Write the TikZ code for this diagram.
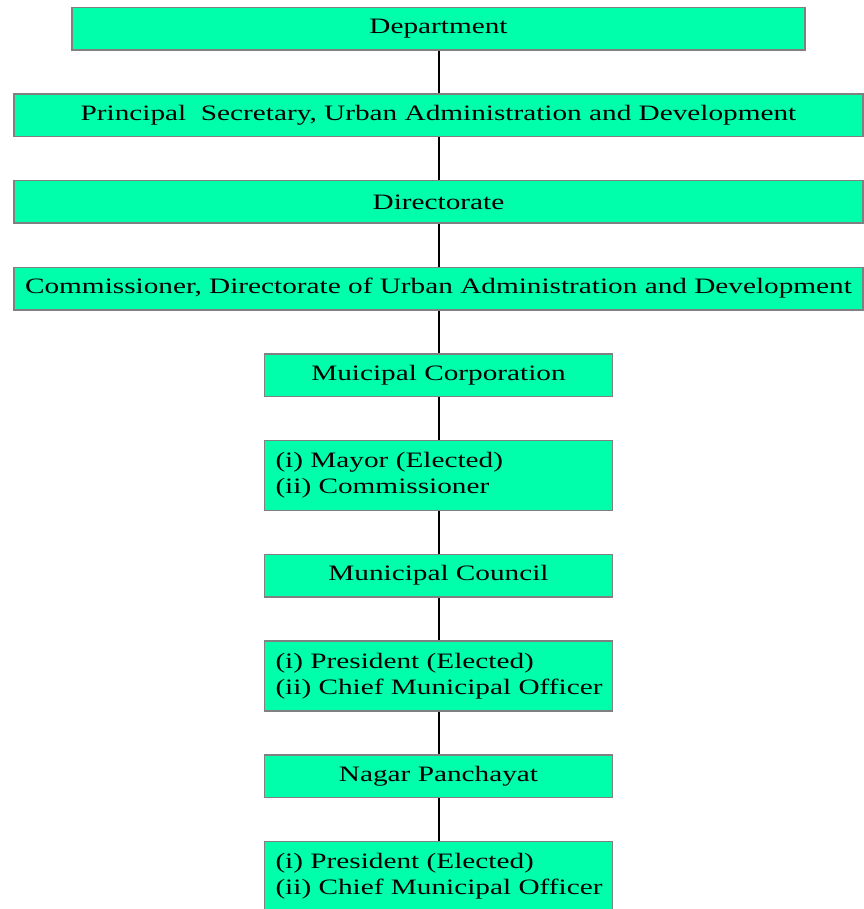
\documentclass[tikz,border=0pt]{standalone}
\usepackage{fontspec}
\setmainfont{Liberation Serif}[FakeStretch=1.33]
\usetikzlibrary{positioning}
\definecolor{boxgreen}{RGB}{0,255,170}
\definecolor{boxgray}{RGB}{128,128,128}

\begin{document}
\begin{tikzpicture}[-,auto,node distance=42.5pt,
    main node/.style={draw=boxgray,line width=1.5pt,fill=boxgreen,minimum height=42.5pt,inner sep=0pt,
        font=\fontsize{22}{26}\selectfont},
    wide node/.style={main node,minimum width=849pt},
    small node/.style={main node,minimum width=348pt},
    list node/.style={main node,text width=332pt,inner xsep=8pt,minimum height=70pt,align=left},
    every edge/.style={draw,black,line width=2pt}]
    \useasboundingbox (0,0) rectangle (863pt,-909pt);

    \node[main node,minimum width=733pt] (1) at (438.5pt,-29pt) {Department};
    \node[wide node] (2) [below=of 1] {Principal~ Secretary, Urban Administration and Development};
    \node[wide node] (3) [below=of 2] {Directorate};
    \node[wide node] (4) [below=of 3] {Commissioner, Directorate of Urban Administration and Development};

    \node[small node] (5) [below=of 4] {Muicipal Corporation};
    \node[list node] (6) [below=of 5] {\hspace*{3pt}(i) Mayor (Elected)\\\hspace*{3pt}(ii) Commissioner};
    \node[small node] (7) [below=of 6] {Municipal Council};
    \node[list node] (8) [below=of 7] {\hspace*{3pt}(i) President (Elected)\\\hspace*{3pt}(ii) Chief Municipal Officer};
    \node[small node] (9) [below=of 8] {Nagar Panchayat};
    \node[list node] (10) [below=of 9] {\hspace*{3pt}(i) President (Elected)\\\hspace*{3pt}(ii) Chief Municipal Officer};

    \path (1) edge (2);
    \path (2) edge (3);
    \path (3) edge (4);
    \path (4) edge (5);
    \path (5) edge (6);
    \path (6) edge (7);
    \path (7) edge (8);
    \path (8) edge (9);
    \path (9) edge (10);
\end{tikzpicture}
\end{document}
